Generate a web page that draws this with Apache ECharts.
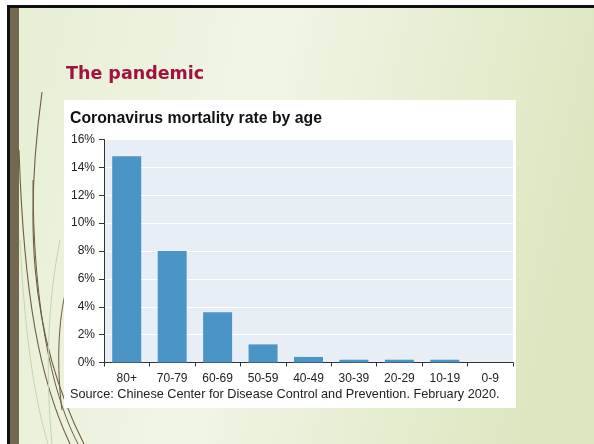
<!DOCTYPE html>
<html>
<head>
<meta charset="utf-8">
<script src="https://cdn.jsdelivr.net/npm/echarts@6/dist/echarts.min.js"></script>
<style>
  html, body { margin: 0; padding: 0; background: #ffffff; }
  #chart { width: 594px; height: 444px; }
</style>
</head>
<body>
<div id="chart"></div>
<script>
// Age bands and case fatality rate (%) per band
const ageGroups = ['80+', '70-79', '60-69', '50-59', '40-49', '30-39', '20-29', '10-19', '0-9'];
const mortalityRates = [14.8, 8.0, 3.6, 1.3, 0.4, 0.2, 0.2, 0.2, 0];
const yTicks = { min: 0, max: 16, step: 2 };

const slideTitle = 'The pandemic';
const chartTitle = 'Coronavirus mortality rate by age';
const sourceNote = 'Source: Chinese Center for Disease Control and Prevention. February 2020.';

const chart = echarts.init(document.getElementById('chart'), null, { renderer: 'canvas' });

const dark = '#6d5c40';
const light = '#c9d3b2';

chart.setOption({
  animation: false,
  graphic: [
    // slide background
    { type: 'rect', z: -20, shape: { x: 0, y: 0, width: 594, height: 444 },
      style: { fill: new echarts.graphic.LinearGradient(0, 0, 1, 0.3, [
        { offset: 0, color: '#e6eed3' },
        { offset: 0.45, color: '#f1f5e6' },
        { offset: 1, color: '#dce7c0' }
      ]) } },
    // top white margin and black rule
    { type: 'rect', z: -19, shape: { x: 0, y: 0, width: 594, height: 5 }, style: { fill: '#ffffff' } },
    { type: 'rect', z: -19, shape: { x: 7, y: 5, width: 587, height: 3 }, style: { fill: '#111111' } },
    // left white margin, black rule and olive band
    { type: 'rect', z: -19, shape: { x: 0, y: 0, width: 7, height: 444 }, style: { fill: '#ffffff' } },
    { type: 'rect', z: -19, shape: { x: 7, y: 5, width: 3, height: 439 }, style: { fill: '#111111' } },
    { type: 'rect', z: -19, shape: { x: 10, y: 8, width: 9, height: 436 }, style: { fill: '#726950' } },
    // decorative sweeping strokes
    { type: 'bezierCurve', z: -18, shape: { x1: 42, y1: 92, cpx1: 26, cpy1: 210, cpx2: 26, cpy2: 330, x2: 84, y2: 444 },
      style: { stroke: dark, lineWidth: 1.1, fill: null } },
    { type: 'bezierCurve', z: -18, shape: { x1: 19, y1: 150, cpx1: 24, cpy1: 300, cpx2: 40, cpy2: 380, x2: 70, y2: 444 },
      style: { stroke: dark, lineWidth: 1.1, fill: null } },
    { type: 'bezierCurve', z: -18, shape: { x1: 33, y1: 180, cpx1: 33, cpy1: 300, cpx2: 50, cpy2: 390, x2: 78, y2: 444 },
      style: { stroke: dark, lineWidth: 1, fill: null } },
    { type: 'bezierCurve', z: -18, shape: { x1: 66, y1: 290, cpx1: 56, cpy1: 330, cpx2: 58, cpy2: 380, x2: 62, y2: 410 },
      style: { stroke: dark, lineWidth: 1, fill: null } },
    { type: 'bezierCurve', z: -18, shape: { x1: 20, y1: 240, cpx1: 25, cpy1: 340, cpx2: 35, cpy2: 400, x2: 48, y2: 444 },
      style: { stroke: light, lineWidth: 1, fill: null } },
    { type: 'bezierCurve', z: -18, shape: { x1: 60, y1: 240, cpx1: 48, cpy1: 300, cpx2: 45, cpy2: 370, x2: 52, y2: 444 },
      style: { stroke: light, lineWidth: 1, fill: null } },
    // slide heading
    { type: 'text', z: -10, left: 66, top: 65,
      style: { text: slideTitle, fill: '#a3123f', font: 'bold 17.5px "DejaVu Sans", sans-serif' } },
    // white chart panel
    { type: 'rect', z: -10, shape: { x: 64, y: 100, width: 452, height: 308 }, style: { fill: '#ffffff' } },
    // chart heading and source line
    { type: 'text', z: -5, left: 70, top: 111,
      style: { text: chartTitle, fill: '#111111', font: 'bold 15.8px "Liberation Sans", Arial, sans-serif' } },
    { type: 'text', z: -5, left: 70, top: 388,
      style: { text: sourceNote, fill: '#222222', font: '12.7px "Liberation Sans", Arial, sans-serif' } }
  ],
  grid: {
    left: 104, right: 81, top: 139.5, bottom: 81.5,
    show: true, backgroundColor: '#e8eef6', borderWidth: 0
  },
  xAxis: {
    type: 'category',
    data: ageGroups,
    axisLine: { show: true, lineStyle: { color: '#333333', width: 1 } },
    axisTick: { show: true, alignWithLabel: false, length: 4, lineStyle: { color: '#333333' } },
    axisLabel: { color: '#222222', fontSize: 12, fontFamily: '"Liberation Sans", Arial, sans-serif', margin: 10 },
    splitLine: { show: false }
  },
  yAxis: {
    type: 'value',
    min: yTicks.min, max: yTicks.max, interval: yTicks.step,
    axisLine: { show: true, lineStyle: { color: '#333333', width: 1 } },
    axisTick: { show: true, length: 5, lineStyle: { color: '#333333' } },
    axisLabel: { color: '#222222', fontSize: 12, fontFamily: '"Liberation Sans", Arial, sans-serif',
      margin: 9, formatter: '{value}%' },
    splitLine: { show: true, lineStyle: { color: '#ffffff', width: 1.2 } }
  },
  series: [{
    type: 'bar',
    data: mortalityRates,
    barWidth: 29,
    itemStyle: { color: '#4b94c6' }
  }]
});
</script>
</body>
</html>
